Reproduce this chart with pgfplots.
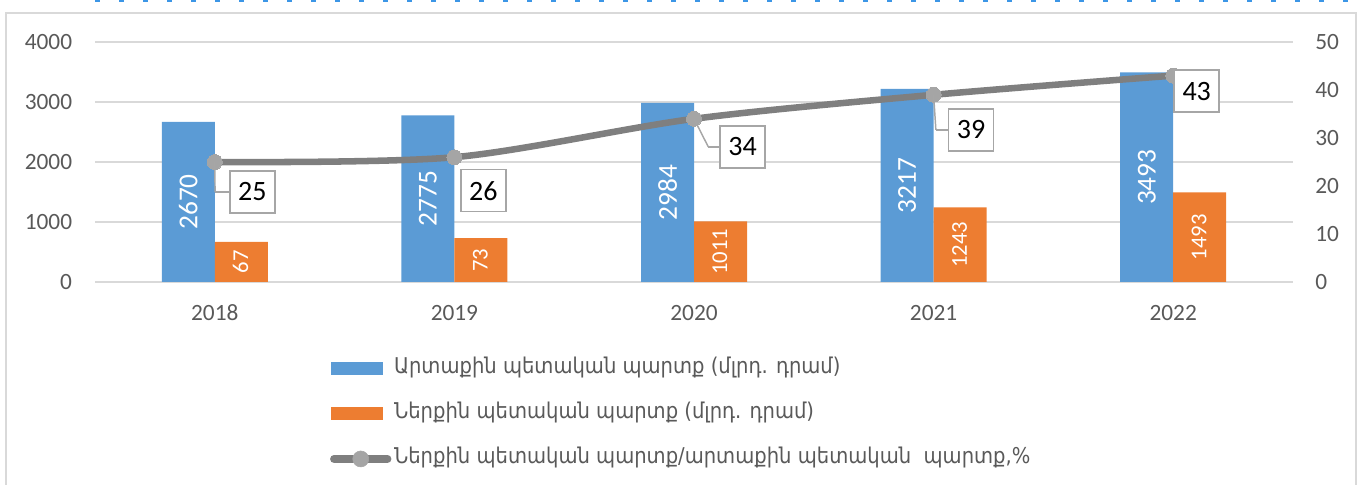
\documentclass[border=0pt]{standalone}
\usepackage{pgfplots}
\pgfplotsset{compat=1.18}
\usepackage{pgfplotstable}
\usepackage{fontspec}
\setmainfont{Carlito}
\newfontfamily\armfont[FakeStretch=0.9]{DejaVu Sans}
\definecolor{bblue}{HTML}{5B9BD5}
\definecolor{borange}{HTML}{ED7D31}
\definecolor{lgray}{HTML}{7F7F7F}
\definecolor{mgray}{HTML}{A5A5A5}
\definecolor{tgray}{HTML}{595959}
\definecolor{gridgray}{HTML}{D9D9D9}
\definecolor{boxgray}{HTML}{A6A6A6}
\definecolor{topblue}{HTML}{3C96E6}

\pgfplotstableread{
x a b la lb
0 2670 670 2670 67
1 2775 733 2775 73
2 2984 1011 2984 1011
3 3217 1243 3217 1243
4 3493 1493 3493 1493
}\bars

\pgfplotstableread{
x r dx dy lh lop
0 25 37.5 -30 14 1
1 26 29 -33.5 0 0
2 34 48.5 -28 11 1
3 39 37.5 -35 12 1
4 43 23.5 -15.5 0 0
}\ratio

\begin{document}
\begin{tikzpicture}[x=0.75pt,y=0.75pt]
\useasboundingbox (0,0) rectangle (1363,485);
\draw[gridgray, line width=1.5pt] (6,-5) -- (6,472) -- (1356,472) -- (1356,-5);
\draw[topblue, line width=2.2pt, dash pattern=on 4pt off 14pt] (95,484.5) -- (1363,484.5);

\begin{axis}[
  at={(71.25pt,152.25pt)}, anchor=south west,
  scale only axis, width=898.5pt, height=180pt,
  xmin=-0.5, xmax=4.5, ymin=0, ymax=4000,
  xtick={0,1,2,3,4}, xticklabels={2018,2019,2020,2021,2022},
  ytick={0,1000,2000,3000,4000},
  ymajorgrids, grid style={draw=gridgray, line width=1.4pt},
  axis line style={draw=none}, major tick length=0pt,
  tick label style={font=\fontsize{17.5}{21}\selectfont, color=tgray},
  /pgf/number format/assume math mode=true, /pgf/number format/1000 sep={},
  yticklabel style={anchor=east, inner sep=0pt, xshift=-17pt},
  xticklabel style={anchor=north, inner sep=0pt, yshift=-17pt},
  clip=false,
  legend cell align=left,
  legend style={draw=none, fill=none, at={(0.196,-0.307)}, anchor=north west,
    inner sep=0pt, row sep=15.5pt, font=\armfont\fontsize{16.3}{18}\selectfont, text=tgray,
    nodes={inner sep=2pt, text height=11pt, text depth=3.5pt}},
]
\addplot[ybar, bar width=39.75pt, bar shift=-19.875pt, fill=bblue, draw=none,
  legend image code/.code={\fill[bblue] (0pt,-4.9pt) rectangle (39pt,4.9pt);}]
  table[x=x,y=a]{\bars};
\addplot[ybar, bar width=39.75pt, bar shift=19.875pt, fill=borange, draw=none,
  legend image code/.code={\fill[borange] (0pt,-4.9pt) rectangle (39pt,4.9pt);}]
  table[x=x,y=b]{\bars};
\addplot[forget plot, draw=none, mark=none, nodes near coords, point meta=explicit symbolic,
  nodes near coords style={rotate=90, anchor=center, color=white, inner sep=0pt,
    font=\fontsize{20.5}{21}\selectfont}]
  table[x expr=\thisrow{x}-0.1104, y expr=\thisrow{a}/2, meta=la]{\bars};
\addplot[forget plot, draw=none, mark=none, nodes near coords, point meta=explicit symbolic,
  nodes near coords style={rotate=90, anchor=center, color=white, inner sep=0pt,
    font=\fontsize{17}{18}\selectfont}]
  table[x expr=\thisrow{x}+0.108, y expr=\thisrow{b}/2, meta=lb]{\bars};
\addlegendimage{legend image code/.code={
  \draw[line width=6pt, color=lgray, line cap=round] (2pt,0pt) -- (42pt,0pt);
  \fill[mgray] (22pt,0pt) circle (6pt);}}
\legend{Արտաքին պետական պարտք (մլրդ. դրամ), Ներքին պետական պարտք (մլրդ. դրամ), {Ներքին պետական պարտք/արտաքին պետական~ պարտք,\%}}
\end{axis}

\begin{axis}[
  at={(71.25pt,152.25pt)}, anchor=south west,
  scale only axis, width=898.5pt, height=180pt,
  xmin=-0.5, xmax=4.5, ymin=0, ymax=50,
  axis y line*=right, xtick=\empty,
  ytick={0,10,20,30,40,50},
  axis line style={draw=none}, major tick length=0pt,
  tick label style={font=\fontsize{17.5}{21}\selectfont, color=tgray},
  /pgf/number format/assume math mode=true,
  yticklabel style={anchor=west, inner sep=0pt, xshift=16.5pt},
  clip=false,
]
\addplot[smooth, color=lgray, line width=4.9pt, mark=*, mark size=5.6pt,
  mark options={fill=mgray, draw=mgray, line width=0pt}]
  table[x=x,y=r]{\ratio};
\addplot[draw=none, mark=none, nodes near coords, point meta=explicit symbolic,
  visualization depends on={\thisrow{dx}\as\dx},
  visualization depends on={\thisrow{dy}\as\dy},
  visualization depends on={\thisrow{lh}\as\lh},
  visualization depends on={\thisrow{lop}\as\lop},
  nodes near coords style={anchor=center, xshift={(\dx)*0.75pt}, yshift={(\dy)*0.75pt},
    draw=boxgray, fill=white, line width=1.1pt, minimum width=33.75pt, minimum height=31.5pt,
    inner sep=0pt, font=\fontsize{21}{22}\selectfont, text=black,
    append after command={
      (\tikzlastnode.west) edge[draw=boxgray, line width=1.1pt, draw opacity=\lop] ([xshift={-(\lh)*0.75pt}]\tikzlastnode.west)
      ([xshift={-(\lh)*0.75pt}]\tikzlastnode.west) edge[draw=boxgray, line width=1.1pt, draw opacity=\lop] ([xshift={-(\dx)*0.75pt}, yshift={-(\dy)*0.75pt}]\tikzlastnode.center)
    }}]
  table[x=x, y=r, meta=r]{\ratio};
\end{axis}
\end{tikzpicture}
\end{document}
